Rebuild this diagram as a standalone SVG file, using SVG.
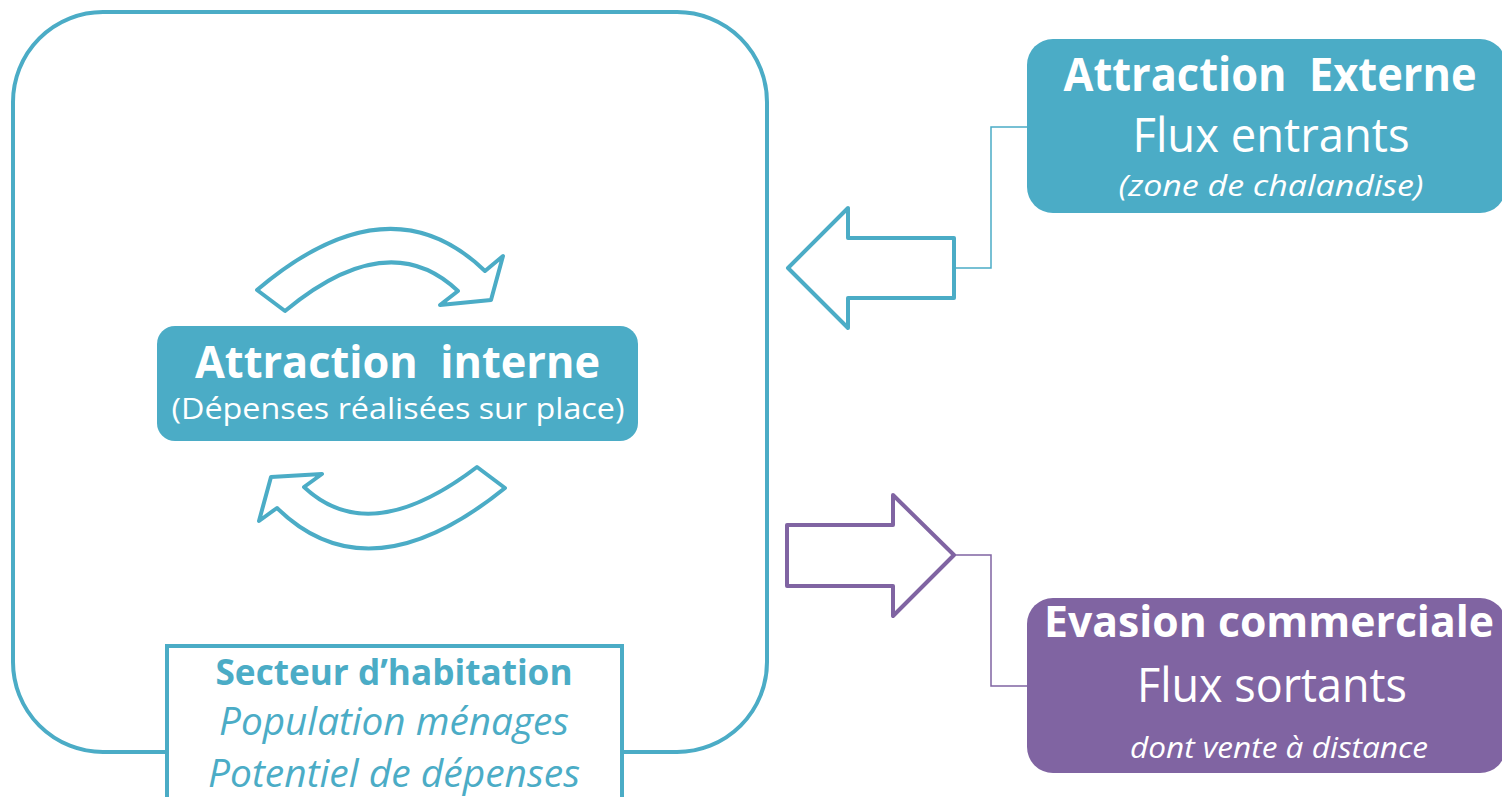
<svg xmlns="http://www.w3.org/2000/svg" width="1502" height="797" viewBox="0 0 1502 797">
<style>
.t{font-family:"Open Sans","Lato","Liberation Sans",sans-serif;text-anchor:middle}
.b{font-weight:bold}
.i{font-style:italic}
.w{fill:#ffffff}
.c{fill:#4BACC6}
.cs{fill:none;stroke:#4BACC6;stroke-width:4;stroke-linejoin:round}
.ps{fill:none;stroke:#8064A2;stroke-width:4;stroke-linejoin:round}
.lnc{fill:none;stroke:#4BACC6;stroke-width:1.5}
.lnp{fill:none;stroke:#8064A2;stroke-width:1.5}
</style>
<rect width="1502" height="797" fill="#ffffff"/>
<g id="zone">
<rect x="13" y="12" width="754" height="740" rx="90" ry="90" class="cs"/>
</g>
<g id="cycle-arrows">
<path class="cs" d="M257,290 Q389,178 485,271 L503,256 L491,300 L440,305 L458,291 Q388.5,225 285,311 Z"/>
<path class="cs" d="M477,467 Q369.5,549 304,487 L322,474 L271,477 L259,521 L277,508 Q369,598 505,488 Z"/>
</g>
<g id="connectors">
<path class="cs" d="M788,268 L848,208 L848,238 L954,238 L954,298 L848,298 L848,328 Z"/>
<path class="lnc" d="M954,268 L991,268 L991,127 L1027,127"/>
<path class="ps" d="M787,525 L893,525 L893,495 L954,555 L893,616 L893,586 L787,586 Z"/>
<path class="lnp" d="M954,555 L991,555 L991,686 L1027,686"/>
</g>
<g id="attraction-interne">
<rect x="157" y="326" width="481" height="115" rx="18" ry="18" fill="#4BACC6"/>
<text class="t b w" x="397.5" y="378" font-size="44" textLength="405" lengthAdjust="spacingAndGlyphs" xml:space="preserve">Attraction  interne</text>
<text class="t w" x="398" y="419" font-size="29" textLength="453" lengthAdjust="spacingAndGlyphs">(Dépenses réalisées sur place)</text>
</g>
<g id="secteur">
<rect x="167" y="646" width="455" height="170" fill="#ffffff" stroke="#4BACC6" stroke-width="4"/>
<text class="t b c" x="394" y="685" font-size="35" textLength="357" lengthAdjust="spacingAndGlyphs">Secteur d’habitation</text>
<text class="t i c" x="394" y="735" font-size="38" textLength="350" lengthAdjust="spacingAndGlyphs">Population ménages</text>
<text class="t i c" x="394" y="787" font-size="39" textLength="372" lengthAdjust="spacingAndGlyphs">Potentiel de dépenses</text>
</g>
<g id="attraction-externe">
<rect x="1027" y="39" width="479" height="174" rx="26" ry="26" fill="#4BACC6"/>
<text class="t b w" x="1270" y="91" font-size="46" textLength="413" lengthAdjust="spacingAndGlyphs" xml:space="preserve">Attraction  Externe</text>
<text class="t w" x="1271" y="152" font-size="48" textLength="277" lengthAdjust="spacingAndGlyphs">Flux entrants</text>
<text class="t i w" x="1271" y="196" font-size="30" textLength="305" lengthAdjust="spacingAndGlyphs">(zone de chalandise)</text>
</g>
<g id="evasion">
<rect x="1027" y="598" width="479" height="175" rx="26" ry="26" fill="#8064A2"/>
<text class="t b w" x="1269" y="637" font-size="43" textLength="450" lengthAdjust="spacingAndGlyphs">Evasion commerciale</text>
<text class="t w" x="1272" y="702" font-size="47" textLength="270" lengthAdjust="spacingAndGlyphs">Flux sortants</text>
<text class="t i w" x="1279" y="758" font-size="29" textLength="298" lengthAdjust="spacingAndGlyphs">dont vente à distance</text>
</g>
</svg>
